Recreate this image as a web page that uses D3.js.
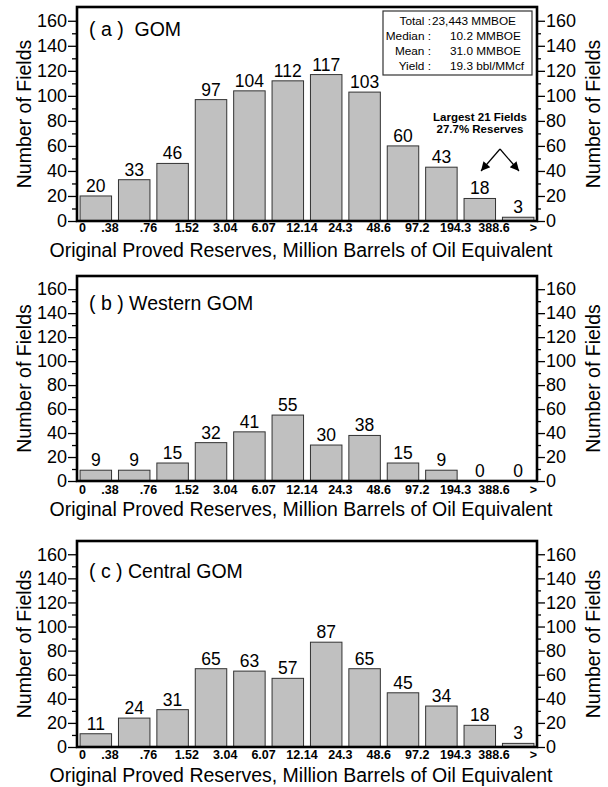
<!DOCTYPE html>
<html>
<head>
<meta charset="utf-8">
<script src="https://cdn.jsdelivr.net/npm/d3@7"></script>
<style>
body { margin: 0; background: #fff; }
text { font-family: "Liberation Sans", Arial, sans-serif; fill: #000; }
</style>
</head>
<body>
<div id="chart"></div>
<script>
// size class boundaries (MMBOE) shown under the bars
var sizeLabels = ["0", ".38", ".76", "1.52", "3.04", "6.07", "12.14", "24.3", "48.6", "97.2", "194.3", "388.6", ">"];
var gomCounts = [20, 33, 46, 97, 104, 112, 117, 103, 60, 43, 18, 3];
var westernCounts = [9, 9, 15, 32, 41, 55, 30, 38, 15, 9, 0, 0];
var centralCounts = [11, 24, 31, 65, 63, 57, 87, 65, 45, 34, 18, 3];
var panelTitles = ["( a )  GOM", "( b ) Western GOM", "( c ) Central GOM"];
var yTicks = [0, 20, 40, 60, 80, 100, 120, 140, 160];
var yMinorTicks = [10, 30, 50, 70, 90, 110, 130, 150];
var statLabels = ["Total :", "Median :", "Mean :", "Yield :"];
var statValues = ["23,443 MMBOE", "10.2 MMBOE", "31.0 MMBOE", "19.3 bbl/MMcf"];
var noteLines = ["Largest 21 Fields", "27.7% Reserves"];

var W = 608, H = 787;
var plotLeft = 77, plotRight = 537;
var panelTops = [7, 276, 541], panelBottoms = [221, 481, 747];
var tickLabelY = [232, 494, 759], xTitleY = [257, 516, 782], titleY = [36, 310, 578];
var FONT = '"Liberation Sans", Arial, sans-serif';

var svg = d3.select("#chart").append("svg")
		.attr("width", W).attr("height", H);
svg.append("rect").attr("width", W).attr("height", H).attr("fill", "#fff");

var x = d3.scaleBand().domain(d3.range(gomCounts.length))
		.range([plotLeft, plotRight]).paddingInner(0.18).paddingOuter(0.08);

function boundaryX(k){
	if (k === 0) return plotLeft;
	if (k === gomCounts.length) return plotRight;
	return x(k) - x.step() * x.paddingInner() / 2;
}

function styleAxis(axisG, size){
	axisG.select(".domain").remove();
	axisG.selectAll("line").attr("stroke", "#000").attr("stroke-width", 1.3);
	axisG.selectAll("text").attr("font-family", FONT).attr("font-size", size);
}

function drawPanel(idx, values){
	var top = panelTops[idx], bottom = panelBottoms[idx];
	var y = d3.scaleLinear().domain([0, 171]).range([bottom, top]);
	var g = svg.append("g").attr("class", "panel");

	g.selectAll("rect.bar").data(values).join("rect")
			.attr("class", "bar")
			.attr("x", function(d, j){ return x(j); })
			.attr("y", function(d){ return y(d); })
			.attr("width", x.bandwidth())
			.attr("height", function(d){ return y(0) - y(d); })
			.attr("fill", "#c0c0c0")
			.attr("stroke", function(d){ return d > 0 ? "#333" : "none"; })
			.attr("stroke-width", 1);

	g.selectAll("text.val").data(values).join("text")
			.attr("class", "val")
			.attr("x", function(d, j){ return x(j) + x.bandwidth() / 2; })
			.attr("y", function(d){ return y(d) - 4; })
			.attr("text-anchor", "middle")
			.attr("font-size", 17.5)
			.text(function(d){ return d; });

	// left and right axes, major + minor ticks
	var la = g.append("g").attr("transform", "translate(" + plotLeft + ",0)")
			.call(d3.axisLeft(y).tickValues(yTicks).tickSize(9).tickPadding(1));
	styleAxis(la, 18);
	var lm = g.append("g").attr("transform", "translate(" + plotLeft + ",0)")
			.call(d3.axisLeft(y).tickValues(yMinorTicks).tickSize(5).tickFormat(""));
	styleAxis(lm, 18);
	var ra = g.append("g").attr("transform", "translate(" + plotRight + ",0)")
			.call(d3.axisRight(y).tickValues(yTicks).tickSize(8).tickPadding(1));
	styleAxis(ra, 18);
	var rm = g.append("g").attr("transform", "translate(" + plotRight + ",0)")
			.call(d3.axisRight(y).tickValues(yMinorTicks).tickSize(4).tickFormat(""));
	styleAxis(rm, 18);

	g.append("rect")
			.attr("x", plotLeft).attr("y", top)
			.attr("width", plotRight - plotLeft).attr("height", bottom - top)
			.attr("fill", "none").attr("stroke", "#000").attr("stroke-width", 2.6);

	// size class labels
	g.selectAll("text.xl").data(sizeLabels).join("text")
			.attr("class", "xl")
			.attr("x", function(d, k){
				if (k === 0) return plotLeft + 2;
				if (k === sizeLabels.length - 1) return plotRight;
				return boundaryX(k) - 5;
			})
			.attr("y", tickLabelY[idx])
			.attr("text-anchor", function(d, k){
				if (k === 0) return "start";
				if (k === sizeLabels.length - 1) return "end";
				return "middle";
			})
			.attr("font-size", 12.5)
			.attr("font-weight", "bold")
			.text(function(d){ return d; });

	g.append("text")
			.attr("x", 301).attr("y", xTitleY[idx])
			.attr("text-anchor", "middle")
			.attr("font-size", 19.5)
			.text("Original Proved Reserves, Million Barrels of Oil Equivalent");

	var midY = (top + bottom) / 2;
	g.append("text")
			.attr("transform", "translate(31," + midY + ") rotate(-90)")
			.attr("text-anchor", "middle").attr("font-size", 19.5)
			.text("Number of Fields");
	g.append("text")
			.attr("transform", "translate(600," + midY + ") rotate(-90)")
			.attr("text-anchor", "middle").attr("font-size", 19.5)
			.text("Number of Fields");

	g.append("text")
			.attr("x", plotLeft + 12).attr("y", titleY[idx])
			.attr("font-size", 19.5)
			.style("white-space", "pre")
			.text(panelTitles[idx]);
	return g;
}

var gA = drawPanel(0, gomCounts);
drawPanel(1, westernCounts);
drawPanel(2, centralCounts);

// stats box in panel (a)
gA.append("rect")
		.attr("x", 383).attr("y", 11).attr("width", 149).attr("height", 64)
		.attr("fill", "#fff").attr("stroke", "#333").attr("stroke-width", 1.2);
gA.selectAll("text.sl").data(statLabels).join("text")
		.attr("class", "sl")
		.attr("x", 431).attr("y", function(d, i){ return 25 + i * 15; })
		.attr("text-anchor", "end").attr("font-size", 11.8)
		.text(function(d){ return d; });
gA.selectAll("text.sv").data(statValues).join("text")
		.attr("class", "sv")
		.attr("x", function(d, i){ return i === 0 ? 432 : 450; })
		.attr("y", function(d, i){ return 25 + i * 15; })
		.attr("font-size", 11.8)
		.text(function(d){ return d; });

// largest fields note with arrows
gA.selectAll("text.note").data(noteLines).join("text")
		.attr("class", "note")
		.attr("x", 480).attr("y", function(d, i){ return 121 + i * 12; })
		.attr("text-anchor", "middle").attr("font-size", 11.5).attr("font-weight", "bold")
		.text(function(d){ return d; });

svg.append("defs").append("marker")
		.attr("id", "arrow").attr("viewBox", "0 0 10 10")
		.attr("refX", 10).attr("refY", 5)
		.attr("markerWidth", 11).attr("markerHeight", 9)
		.attr("markerUnits", "userSpaceOnUse")
		.attr("orient", "auto")
	.append("path").attr("d", "M0,0 L10,5 L0,10 Z").attr("fill", "#000");
[[481, 171], [519, 171]].forEach(function(tip){
	gA.append("line")
			.attr("x1", 500).attr("y1", 149).attr("x2", tip[0]).attr("y2", tip[1])
			.attr("stroke", "#000").attr("stroke-width", 1.2)
			.attr("marker-end", "url(#arrow)");
});
</script>
</body>
</html>
